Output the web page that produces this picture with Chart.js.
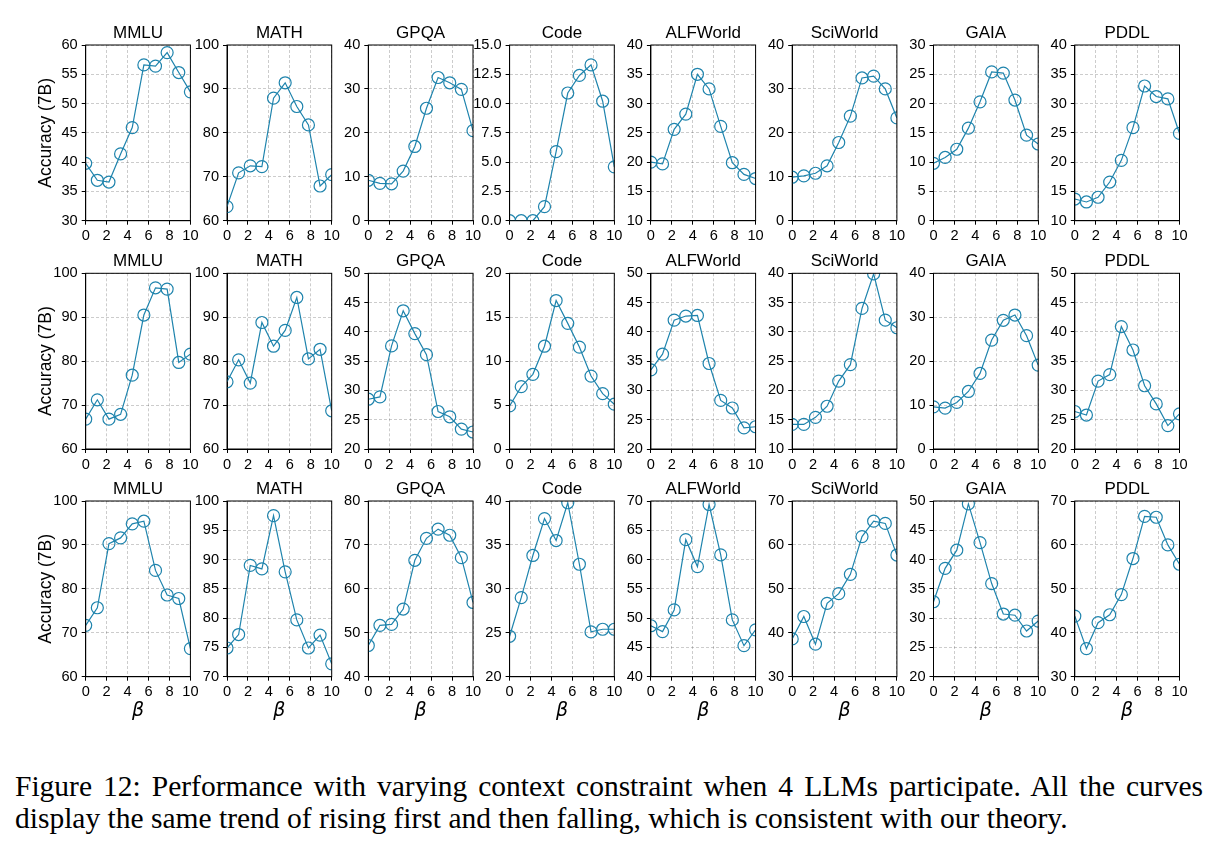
<!DOCTYPE html>
<html>
<head>
<meta charset="utf-8">
<script src="https://cdn.jsdelivr.net/npm/chart.js@4.4.1/dist/chart.umd.min.js"></script>
<style>
  html, body { margin: 0; padding: 0; background: #fff; }
  body { width: 1218px; height: 850px; position: relative; overflow: hidden; }
  canvas.panel { position: absolute; }
  .cap { position: absolute; left: 15px; width: 1188px; font-family: "Liberation Serif", "Times New Roman", serif; font-size: 29.5px; line-height: 34px; color: #000; white-space: nowrap; }
  #cap1 { top: 769px; text-align: justify; text-align-last: justify; }
  #cap2 { top: 801px; }
</style>
</head>
<body>
<div id="cap1" class="cap">Figure 12: Performance with varying context constraint when 4 LLMs participate. All the curves</div>
<div id="cap2" class="cap">display the same trend of rising first and then falling, which is consistent with our theory.</div>
<script>
// ---------------- data ----------------
const BETA = [0, 1.111, 2.222, 3.333, 4.444, 5.556, 6.667, 7.778, 8.889, 10];
const BENCHMARKS = ['MMLU', 'MATH', 'GPQA', 'Code', 'ALFWorld', 'SciWorld', 'GAIA', 'PDDL'];
const X_TICKS = { min: 0, max: 10, step: 2 };
const Y_LABEL = 'Accuracy (7B)';
const X_LABEL = 'β';

// row 1
const R1_MMLU     = [39.8, 36.9, 36.6, 41.4, 45.9, 56.6, 56.4, 58.7, 55.3, 52.0];
const R1_MATH     = [63.2, 70.9, 72.5, 72.3, 87.9, 91.4, 86.0, 81.8, 67.9, 70.5];
const R1_GPQA     = [9.2, 8.5, 8.4, 11.3, 16.9, 25.6, 32.6, 31.4, 29.9, 20.5];
const R1_CODE     = [0.0, 0.0, 0.0, 1.2, 5.9, 10.9, 12.4, 13.3, 10.2, 4.6];
const R1_ALFWORLD = [20.0, 19.7, 25.6, 28.2, 35.0, 32.5, 26.1, 19.9, 17.9, 17.2];
const R1_SCIWORLD = [9.9, 10.2, 10.8, 12.5, 17.8, 23.8, 32.5, 32.9, 30.0, 23.4];
const R1_GAIA     = [9.8, 10.8, 12.2, 15.8, 20.3, 25.4, 25.2, 20.6, 14.6, 13.1];
const R1_PDDL     = [13.7, 13.2, 14.0, 16.6, 20.3, 25.9, 33.0, 31.2, 30.8, 24.9];
const R1_YMIN  = [30, 60, 0, 0, 10, 0, 0, 10];
const R1_YMAX  = [60, 100, 40, 15, 40, 40, 30, 40];
const R1_YSTEP = [5, 10, 10, 2.5, 5, 10, 5, 5];

// row 2
const R2_MMLU     = [66.8, 71.2, 66.8, 67.9, 76.8, 90.5, 96.7, 96.4, 79.7, 81.6];
const R2_MATH     = [75.3, 80.3, 75.0, 88.8, 83.4, 87.0, 94.5, 80.5, 82.7, 68.7];
const R2_GPQA     = [28.5, 28.9, 37.6, 43.6, 39.7, 36.1, 26.4, 25.5, 23.4, 22.9];
const R2_CODE     = [4.9, 7.1, 8.5, 11.7, 16.9, 14.3, 11.6, 8.3, 6.3, 5.1];
const R2_ALFWORLD = [33.5, 36.2, 42.0, 42.7, 42.8, 34.6, 28.3, 27.0, 23.6, 23.8];
const R2_SCIWORLD = [14.2, 14.2, 15.4, 17.3, 21.6, 24.4, 34.0, 39.9, 32.0, 30.7];
const R2_GAIA     = [9.6, 9.3, 10.6, 13.1, 17.2, 24.8, 29.3, 30.5, 25.8, 19.1];
const R2_PDDL     = [26.4, 25.8, 31.6, 32.7, 40.9, 36.9, 30.8, 27.7, 24.0, 26.0];
const R2_YMIN  = [60, 60, 20, 0, 20, 10, 0, 20];
const R2_YMAX  = [100, 100, 50, 20, 50, 40, 40, 50];
const R2_YSTEP = [10, 10, 5, 5, 5, 5, 10, 5];

// row 3
const R3_MMLU     = [71.7, 75.7, 90.3, 91.6, 94.8, 95.4, 84.2, 78.6, 77.8, 66.4];
const R3_MATH     = [74.9, 77.2, 89.0, 88.4, 97.5, 87.9, 79.7, 74.9, 77.1, 72.2];
const R3_GPQA     = [47.1, 51.7, 51.9, 55.4, 66.5, 71.5, 73.6, 72.2, 67.1, 56.9];
const R3_CODE     = [24.6, 29.0, 33.8, 38.0, 35.5, 39.8, 32.8, 25.1, 25.4, 25.4];
const R3_ALFWORLD = [48.7, 47.7, 51.4, 63.4, 58.8, 69.4, 60.8, 49.7, 45.3, 48.0];
const R3_SCIWORLD = [38.6, 43.7, 37.4, 46.7, 48.9, 53.3, 61.9, 65.4, 64.9, 57.7];
const R3_GAIA     = [32.8, 38.5, 41.6, 49.5, 42.9, 35.9, 30.7, 30.5, 27.8, 29.5];
const R3_PDDL     = [43.8, 36.4, 42.3, 44.1, 48.7, 56.9, 66.5, 66.3, 60.0, 55.6];
const R3_YMIN  = [60, 70, 40, 20, 40, 30, 20, 30];
const R3_YMAX  = [100, 100, 80, 40, 70, 70, 50, 70];
const R3_YSTEP = [10, 5, 10, 5, 5, 10, 5, 10];

const ROWS = [
  { series: [R1_MMLU, R1_MATH, R1_GPQA, R1_CODE, R1_ALFWORLD, R1_SCIWORLD, R1_GAIA, R1_PDDL], ymin: R1_YMIN, ymax: R1_YMAX, ystep: R1_YSTEP },
  { series: [R2_MMLU, R2_MATH, R2_GPQA, R2_CODE, R2_ALFWORLD, R2_SCIWORLD, R2_GAIA, R2_PDDL], ymin: R2_YMIN, ymax: R2_YMAX, ystep: R2_YSTEP },
  { series: [R3_MMLU, R3_MATH, R3_GPQA, R3_CODE, R3_ALFWORLD, R3_SCIWORLD, R3_GAIA, R3_PDDL], ymin: R3_YMIN, ymax: R3_YMAX, ystep: R3_YSTEP }
];

// ---------------- layout ----------------
const PLOT_LEFT0 = 85.7, PITCH_X = 141.3, PLOT_W = 104.7, PLOT_H = 175.7;
const PLOT_TOPS = [45, 273.3, 501];
const CAN_W = 200, CAN_H = 270, PAD_L = 70, PAD_T = 30;
const LINE_COLOR = '#1f84ad';
const FONT = '"Liberation Sans", Arial, Helvetica, sans-serif';

Chart.defaults.font.family = FONT;
Chart.defaults.font.size = 14.6;
Chart.defaults.color = '#000';

const panelDecor = {
  id: 'panelDecor',
  afterDatasetsDraw(chart, args, o) {
    const ctx = chart.ctx, a = chart.chartArea;
    ctx.save();
    ctx.strokeStyle = '#000';
    ctx.lineWidth = 1;
    ctx.strokeRect(a.left, a.top, a.right - a.left, a.bottom - a.top);
    ctx.fillStyle = '#000';
    ctx.textAlign = 'center';
    ctx.textBaseline = 'alphabetic';
    ctx.font = '17px ' + FONT;
    ctx.fillText(o.title, (a.left + a.right) / 2, a.top - 7.3);
    if (o.xlabel) {
      ctx.font = 'italic 19px "DejaVu Sans", sans-serif';
      ctx.fillText(o.xlabel, (a.left + a.right) / 2, a.bottom + 39.5);
    }
    if (o.ylabel) {
      ctx.translate(a.left - o.ylabelOffset, (a.top + a.bottom) / 2);
      ctx.rotate(-Math.PI / 2);
      ctx.font = '17.5px ' + FONT;
      ctx.fillText(o.ylabel, 0, 0);
    }
    ctx.restore();
  }
};

function fmtTick(step) {
  return (v) => (Number.isInteger(step) ? String(Math.round(v)) : v.toFixed(1));
}

ROWS.forEach((row, r) => {
  BENCHMARKS.forEach((name, c) => {
    const plotLeft = PLOT_LEFT0 + c * PITCH_X;
    const plotTop = PLOT_TOPS[r];
    const canLeft = Math.floor(plotLeft) - PAD_L;
    const canTop = Math.floor(plotTop) - PAD_T;
    const yWidth = plotLeft - canLeft;
    const padTop = plotTop - canTop;
    const padRight = CAN_W - yWidth - PLOT_W;
    const xHeight = CAN_H - padTop - PLOT_H;

    const cv = document.createElement('canvas');
    cv.className = 'panel';
    cv.width = CAN_W; cv.height = CAN_H;
    cv.style.left = canLeft + 'px'; cv.style.top = canTop + 'px';
    cv.style.width = CAN_W + 'px'; cv.style.height = CAN_H + 'px';
    document.body.appendChild(cv);

    const pts = BETA.map((x, i) => ({ x: x, y: row.series[c][i] }));
    const step = row.ystep[c];

    new Chart(cv, {
      type: 'line',
      data: {
        datasets: [{
          data: pts,
          borderColor: LINE_COLOR,
          borderWidth: 1.2,
          pointRadius: 6,
          pointHoverRadius: 6,
          pointBorderWidth: 1.2,
          pointBorderColor: LINE_COLOR,
          pointBackgroundColor: 'rgba(0,0,0,0)',
          fill: false,
          tension: 0,
          clip: 0
        }]
      },
      options: {
        responsive: false,
        animation: false,
        devicePixelRatio: 1,
        events: [],
        layout: { padding: { left: 0, top: padTop, right: padRight, bottom: 0 } },
        plugins: {
          legend: { display: false },
          tooltip: { enabled: false },
          title: { display: false },
          panelDecor: {
            title: name,
            xlabel: r === ROWS.length - 1 ? X_LABEL : null,
            ylabel: c === 0 ? Y_LABEL : null,
            ylabelOffset: 35
          }
        },
        scales: {
          x: {
            type: 'linear',
            min: X_TICKS.min, max: X_TICKS.max,
            afterFit: (s) => { s.height = xHeight; },
            ticks: { stepSize: X_TICKS.step, autoSkip: false, maxRotation: 0, minRotation: 0, padding: 3, color: '#000',
                     callback: (v) => String(v) },
            grid: { color: 'rgba(0,0,0,0.25)', lineWidth: 0.8, drawTicks: true, tickLength: 4, tickColor: '#000', tickWidth: 1 },
            border: { display: true, color: '#000', width: 1, dash: [3, 2] }
          },
          y: {
            type: 'linear',
            min: row.ymin[c], max: row.ymax[c],
            afterFit: (s) => { s.width = yWidth; },
            ticks: { stepSize: step, autoSkip: false, padding: 4, color: '#000', callback: fmtTick(step) },
            grid: { color: 'rgba(0,0,0,0.25)', lineWidth: 0.8, drawTicks: true, tickLength: 4, tickColor: '#000', tickWidth: 1 },
            border: { display: true, color: '#000', width: 1, dash: [3, 2] }
          }
        }
      },
      plugins: [panelDecor]
    });
  });
});
</script>
</body>
</html>
